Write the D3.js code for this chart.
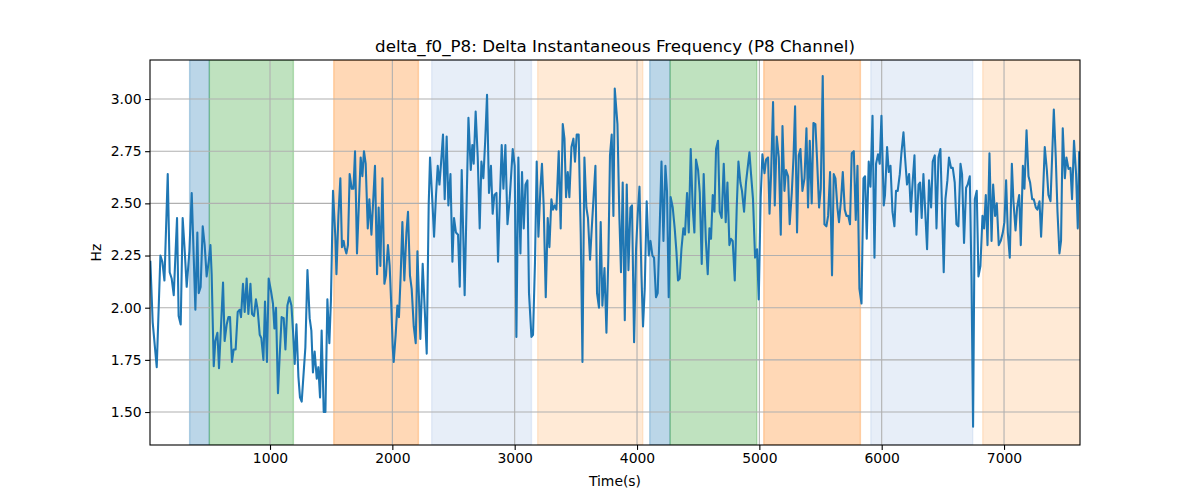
<!DOCTYPE html>
<html><head><meta charset="utf-8">
<script src="https://cdn.jsdelivr.net/npm/d3@7"></script>
<style>body{margin:0;background:#fff}svg{display:block}text{font-family:"DejaVu Sans",sans-serif}</style>
</head><body><svg id="c" width="1200" height="500"></svg>
<script>
const times = [22,41,74,104,120,137,164,180,196,213,240,253,270,286,302,319,341,360,376,390,406,417,433,450,466,482,499,513,523,540,553,570,583,597,616,629,646,660,673,689,703,719,736,752,763,779,793,809,823,840,853,869,885,899,916,929,946,959,975,989,1008,1024,1036,1049,1065,1079,1095,1112,1126,1142,1158,1175,1188,1202,1216,1232,1245,1259,1289,1306,1324,1338,1351,1365,1382,1395,1409,1422,1439,1453,1469,1485,1498,1515,1534,1543,1559,1575,1588,1602,1610,1624,1637,1651,1668,1682,1695,1711,1741,1755,1768,1782,1799,1812,1829,1845,1858,1875,1888,1902,1919,1935,1948,1964,1978,1992,2003,2011,2027,2041,2054,2068,2082,2098,2115,2128,2144,2158,2175,2191,2205,2229,2248,2264,2281,2297,2308,2327,2341,2357,2371,2385,2399,2414,2428,2444,2458,2475,2491,2504,2520,2537,2551,2567,2591,2622,2641,2654,2665,2681,2698,2714,2728,2744,2759,2774,2790,2806,2820,2834,2851,2864,2878,2894,2908,2924,2941,2959,2984,3000,3014,3030,3047,3060,3074,3088,3104,3117,3137,3150,3166,3180,3194,3210,3223,3237,3254,3270,3284,3300,3313,3327,3341,3360,3376,3393,3407,3420,3434,3447,3464,3480,3493,3507,3523,3540,3554,3570,3586,3599,3616,3630,3644,3660,3673,3689,3703,3717,3734,3750,3766,3779,3793,3807,3818,3840,3856,3869,3883,3900,3916,3930,3946,3959,3976,3992,4006,4020,4036,4049,4063,4079,4096,4110,4126,4139,4155,4169,4186,4200,4216,4232,4245,4259,4275,4292,4308,4322,4335,4349,4363,4379,4392,4409,4423,4439,4455,4469,4482,4499,4513,4529,4545,4562,4578,4592,4605,4619,4633,4646,4662,4676,4692,4709,4725,4739,4755,4768,4782,4799,4815,4829,4845,4858,4875,4891,4919,4932,4948,4965,4981,4995,5011,5025,5042,5055,5071,5083,5096,5112,5126,5142,5159,5175,5189,5205,5218,5235,5248,5265,5279,5292,5308,5322,5336,5352,5369,5385,5398,5412,5428,5442,5458,5471,5488,5502,5518,5532,5548,5562,5578,5594,5608,5622,5638,5651,5668,5682,5698,5712,5727,5741,5755,5772,5788,5802,5818,5835,5851,5864,5878,5894,5908,5925,5941,5954,5970,5984,5998,6017,6027,6044,6058,6072,6088,6104,6117,6131,6148,6161,6178,6191,6207,6224,6238,6254,6268,6284,6301,6314,6327,6341,6371,6387,6404,6417,6434,6448,6464,6480,6493,6507,6521,6537,6550,6567,6581,6597,6611,6627,6644,6657,6673,6690,6703,6720,6734,6747,6761,6777,6791,6807,6824,6837,6851,6865,6881,6898,6911,6927,6941,6957,6973,6990,7003,7017,7031,7047,7064,7077,7094,7107,7124,7137,7154,7167,7184,7200,7213,7230,7243,7260,7273,7290,7303,7317,7333,7350,7363,7380,7393,7407,7423,7437,7453,7466,7480,7497,7510,7527,7543,7556,7572,7589,7603,7614];
const values = [2.22,1.93,1.715,2.25,2.22,2.13,2.64,2.17,2.14,2.06,2.43,1.96,1.92,2.43,2.28,2.10,2.27,2.55,2.25,1.99,2.36,2.07,2.10,2.39,2.30,2.15,2.22,2.30,2.16,1.72,1.84,1.88,1.71,1.88,2.12,1.84,1.92,1.955,1.955,1.74,1.80,1.80,1.98,1.99,1.955,2.115,1.98,2.14,1.97,2.115,1.97,1.96,2.04,1.99,1.87,1.855,1.75,2.03,1.74,2.14,2.08,2.02,1.90,2.00,1.59,1.77,1.955,1.95,1.80,2.01,2.05,2.01,1.89,1.73,1.92,1.67,1.57,1.55,1.81,2.18,1.95,1.89,1.69,1.79,1.66,1.715,1.57,1.89,1.50,1.50,2.04,1.83,2.035,2.56,2.34,2.16,2.44,2.62,2.29,2.32,2.29,2.26,2.30,2.64,2.57,2.57,2.75,2.26,2.72,2.63,2.75,2.69,2.38,2.52,2.35,2.53,2.68,2.16,2.48,2.20,2.62,2.115,2.155,2.30,2.20,2.00,1.81,1.74,1.87,2.01,1.955,2.155,2.41,2.13,2.36,2.46,2.155,2.09,1.91,1.83,2.27,1.85,2.21,2.00,1.78,2.49,2.72,2.51,2.34,2.54,2.68,2.59,2.70,2.83,2.52,2.82,2.49,2.64,2.22,2.43,2.36,2.35,2.10,2.66,2.06,2.91,2.66,2.78,2.69,2.94,2.72,2.38,2.70,2.62,2.80,3.02,2.55,2.68,2.45,2.54,2.55,2.22,2.50,2.78,2.57,2.78,2.40,2.52,2.76,2.68,1.86,2.72,2.26,2.65,2.38,2.59,2.61,2.07,1.86,1.87,2.22,2.70,2.34,2.57,2.69,2.49,2.05,2.43,2.29,2.52,2.47,2.49,2.47,2.75,2.38,2.88,2.81,2.53,2.65,2.53,2.77,2.81,2.70,2.83,2.83,2.35,1.74,2.72,2.48,2.43,2.23,2.38,2.52,2.68,2.07,2.00,2.41,2.01,2.19,1.88,2.25,2.73,2.83,2.44,3.05,2.88,2.43,2.17,2.60,1.94,2.59,2.18,2.48,2.49,1.835,2.28,2.45,2.58,2.16,1.91,2.09,2.51,2.25,2.32,2.25,2.24,2.05,2.07,2.40,2.70,2.32,2.68,2.56,2.05,2.53,2.48,2.38,2.27,2.13,2.14,2.28,2.38,2.35,2.55,2.36,2.76,2.48,2.36,2.71,2.66,2.55,2.21,2.64,2.33,2.16,2.38,2.33,2.54,2.46,2.76,2.80,2.46,2.43,2.69,2.41,2.60,2.30,2.33,2.32,2.13,2.48,2.70,2.60,2.56,2.46,2.60,2.745,2.64,2.52,2.24,2.28,2.04,2.53,2.735,2.645,2.71,2.72,2.45,2.64,2.985,2.49,2.82,2.72,2.35,2.87,2.56,2.66,2.63,2.40,2.55,2.72,2.965,2.36,2.73,2.76,2.56,2.62,2.86,2.48,2.80,2.50,2.885,2.88,2.72,2.48,2.57,3.11,2.40,2.39,2.44,2.65,2.155,2.64,2.62,2.48,2.41,2.52,2.65,2.47,2.44,2.44,2.40,2.74,2.75,2.42,2.68,2.09,2.02,2.62,2.63,2.33,2.70,2.58,2.92,2.24,2.69,2.735,2.69,2.92,2.49,2.54,2.77,2.65,2.68,2.46,2.39,2.56,2.56,2.64,2.74,2.84,2.72,2.59,2.64,2.46,2.61,2.73,2.35,2.59,2.60,2.43,2.64,2.28,2.61,2.48,2.70,2.73,2.38,2.72,2.76,2.48,2.17,2.52,2.61,2.72,2.67,2.67,2.60,2.40,2.39,2.69,2.64,2.31,2.575,2.59,2.63,2.15,1.43,2.52,2.56,2.15,2.20,2.44,2.38,2.54,2.30,2.74,2.32,2.59,2.44,2.50,2.30,2.32,2.36,2.41,2.61,2.36,2.24,2.69,2.51,2.37,2.48,2.54,2.30,2.68,2.57,2.85,2.63,2.60,2.52,2.52,2.48,2.47,2.51,2.34,2.52,2.77,2.66,2.54,2.51,2.72,2.95,2.72,2.46,2.26,2.32,2.86,2.62,2.72,2.665,2.67,2.52,2.80,2.64,2.38,2.745];

const spanStarts = [343,504,1521,2322,3188,4104,4270,5036,5911,6826];
const spanEnds   = [504,1191,2213,3137,4047,4270,4979,5826,6744,7700];
const spanColors = ["#1f77b4","#2ca02c","#ff7f0e","#aec7e8","#ffbb78","#1f77b4","#2ca02c","#ff7f0e","#aec7e8","#ffbb78"];
const xTicks = [1000,2000,3000,4000,5000,6000,7000];
const yTicks = [1.50,1.75,2.00,2.25,2.50,2.75,3.00];
const xDomain = [19,7621];
const yDomain = [1.342,3.187];

const svg = d3.select("#c");
const L=150,R=1080,T=60,B=445;
const x = d3.scaleLinear().domain(xDomain).range([L,R]);
const y = d3.scaleLinear().domain(yDomain).range([B,T]);

svg.append("defs").append("clipPath").attr("id","clip").append("rect")
  .attr("x",L).attr("y",T).attr("width",R-L).attr("height",B-T);

const g = svg.append("g").attr("clip-path","url(#clip)");
spanStarts.forEach((s,i)=>{
  g.append("rect").attr("x",x(s)).attr("y",T).attr("width",x(spanEnds[i])-x(s)).attr("height",B-T)
   .attr("fill",spanColors[i]).attr("fill-opacity",0.3)
   .attr("stroke",spanColors[i]).attr("stroke-opacity",0.3).attr("stroke-width",1.4);
});

// grid
g.selectAll(".gx").data(xTicks).enter().append("line")
  .attr("x1",d=>x(d)).attr("x2",d=>x(d)).attr("y1",T).attr("y2",B)
  .attr("stroke","#b0b0b0").attr("stroke-width",1.1);
g.selectAll(".gy").data(yTicks).enter().append("line")
  .attr("y1",d=>y(d)).attr("y2",d=>y(d)).attr("x1",L).attr("x2",R)
  .attr("stroke","#b0b0b0").attr("stroke-width",1.1);

const pts = times.map((t,i)=>[t,values[i]]);
g.append("path").datum(pts).attr("fill","none").attr("stroke","#1f77b4").attr("stroke-width",2.08)
  .attr("stroke-linejoin","round").attr("stroke-linecap","square")
  .attr("d",d3.line().x(d=>x(d[0])).y(d=>y(d[1])));

// axes
const xa = svg.append("g").attr("transform",`translate(0,${B})`)
  .call(d3.axisBottom(x).tickValues(xTicks).tickSize(4.9).tickPadding(3.5).tickFormat(d3.format("d")));
const ya = svg.append("g").attr("transform",`translate(${L},0)`)
  .call(d3.axisLeft(y).tickValues(yTicks).tickSize(4.9).tickPadding(3.5).tickFormat(d3.format(".2f")));
[xa,ya].forEach(a=>{
  a.select(".domain").remove();
  a.selectAll("line").attr("stroke","#000").attr("stroke-width",1.1);
  a.selectAll("text").attr("font-size","13.9px").attr("fill","#000").attr("font-family","DejaVu Sans");
});
svg.append("rect").attr("x",L).attr("y",T).attr("width",R-L).attr("height",B-T)
  .attr("fill","none").attr("stroke","#000").attr("stroke-width",1.1);

svg.append("text").attr("x",(L+R)/2).attr("y",52).attr("text-anchor","middle")
  .attr("font-size","16.7px").text("delta_f0_P8: Delta Instantaneous Frequency (P8 Channel)");
svg.append("text").attr("x",(L+R)/2).attr("y",486).attr("text-anchor","middle")
  .attr("font-size","13.9px").text("Time(s)");
svg.append("text").attr("transform",`translate(101,${(T+B)/2}) rotate(-90)`).attr("text-anchor","middle")
  .attr("font-size","13.9px").text("Hz");
</script></body></html>
